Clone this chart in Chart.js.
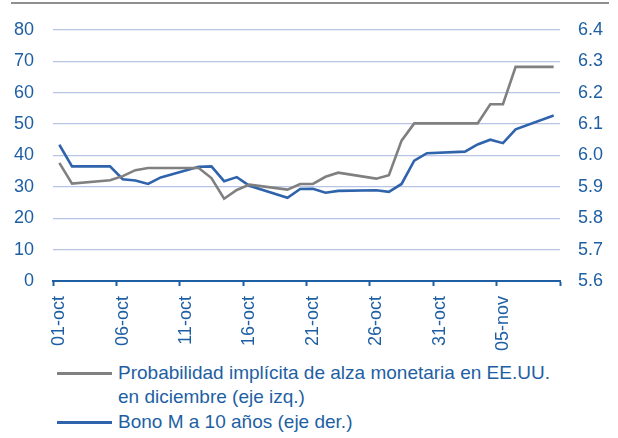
<!DOCTYPE html>
<html>
<head>
<meta charset="utf-8">
<script src="https://cdn.jsdelivr.net/npm/chart.js@4/dist/chart.umd.min.js"></script>
<style>
  body { margin: 0; background: #fff; }
  #wrap { position: relative; width: 618px; height: 438px; font-family: "Liberation Sans", Arial, sans-serif; }
  #topLine { position: absolute; left: 11px; top: 2px; width: 598px; border-top: 2px solid #8f8f8f; }
  #chart { position: absolute; left: 0; top: 0; }
  .leg { position: absolute; left: 0; color: #1e5fa3; font-size: 19px; line-height: 24px; }
  .leg .swatch { position: absolute; left: 57px; width: 55px; height: 0; border-top: 3px solid; }
  .leg .txt { position: absolute; left: 118px; white-space: nowrap; }
</style>
</head>
<body>
<div id="wrap">
  <div id="topLine"></div>
  <canvas id="chart" width="618" height="355"></canvas>
  <div id="legend"></div>
</div>
<script>
// días (01-oct-2015 a 09-nov-2015); null = fin de semana
const days = [
  '01-oct', '02-oct', '03-oct', '04-oct', '05-oct', '06-oct', '07-oct', '08-oct', '09-oct', '10-oct',
  '11-oct', '12-oct', '13-oct', '14-oct', '15-oct', '16-oct', '17-oct', '18-oct', '19-oct', '20-oct',
  '21-oct', '22-oct', '23-oct', '24-oct', '25-oct', '26-oct', '27-oct', '28-oct', '29-oct', '30-oct',
  '31-oct', '01-nov', '02-nov', '03-nov', '04-nov', '05-nov', '06-nov', '07-nov', '08-nov', '09-nov'
];

// Probabilidad implícita de alza (eje izq., %)
const probAlza = [
  37.6, 31.0, null, null, 32.1, 33.4, 35.3, 36.0, 36.0, null,
  null, 36.0, 32.8, 26.2, 29.0, 30.7, null, null, 29.1, 30.9,
  30.9, 33.2, 34.5, null, null, 32.6, 33.7, 44.7, 50.2, 50.2,
  null, null, 50.2, 50.2, 56.3, 56.3, 68.2, null, null, 68.2
];

// Bono M a 10 años (eje der., %)
const bonoM10 = [
  6.034, 5.965, null, null, 5.965, 5.924, 5.920, 5.909, 5.930, null,
  null, 5.964, 5.965, 5.918, 5.931, 5.903, null, null, 5.865, 5.893,
  5.894, 5.881, 5.887, null, null, 5.889, 5.884, 5.909, 5.983, 6.007,
  null, null, 6.012, 6.035, 6.050, 6.039, 6.083, null, null, 6.127
];

const probLabel = ['Probabilidad implícita de alza monetaria en EE.UU.', 'en diciembre (eje izq.)'];
const bonoLabel = ['Bono M a 10 años (eje der.)'];

const textBlue = '#1e5fa3';
const gridBlue = '#b7c4e3';
const grayLine = '#808080';
const blueLine = '#2f64ac';
const tickFont = { family: 'Liberation Sans', size: 18 };

const ctx = document.getElementById('chart').getContext('2d');
new Chart(ctx, {
  type: 'line',
  data: {
    labels: days,
    datasets: [
      { label: probLabel.join(' '), data: probAlza, yAxisID: 'y', borderColor: grayLine, borderWidth: 2.6 },
      { label: bonoLabel.join(' '), data: bonoM10, yAxisID: 'y1', borderColor: blueLine, borderWidth: 2.6 }
    ]
  },
  options: {
    responsive: false,
    animation: false,
    spanGaps: true,
    elements: { point: { radius: 0 }, line: { tension: 0 } },
    layout: { padding: { top: 26, left: 0, right: 0, bottom: 0 } },
    plugins: { legend: { display: false }, tooltip: { enabled: false } },
    scales: {
      x: {
        type: 'category',
        offset: true,
        grid: {
          offset: true,
          drawOnChartArea: false,
          tickLength: 5,
          tickWidth: 2,
          tickColor: (c) => (c.index === undefined || c.index % 5 === 0) ? textBlue : 'rgba(0,0,0,0)'
        },
        border: { display: true, color: textBlue, width: 2 },
        ticks: {
          autoSkip: false,
          minRotation: 90,
          maxRotation: 90,
          padding: 10,
          color: textBlue,
          font: tickFont,
          callback: (v, i) => (i % 5 === 0 ? days[i] : '')
        },
        afterFit: (s) => { s.height = 74; }
      },
      y: {
        position: 'left',
        min: 0,
        max: 80,
        ticks: { stepSize: 10, padding: 19, color: textBlue, font: tickFont },
        grid: { color: gridBlue, lineWidth: 1.3, drawTicks: false },
        border: { display: false },
        afterFit: (s) => { s.width = 53; }
      },
      y1: {
        position: 'right',
        min: 5.6,
        max: 6.4,
        ticks: { stepSize: 0.1, padding: 18, color: textBlue, font: tickFont, callback: (v) => Number(v).toFixed(1) },
        grid: { drawOnChartArea: false, drawTicks: false },
        border: { display: false },
        afterFit: (s) => { s.width = 58; }
      }
    }
  }
});

// leyenda
function addLegendItem(lines, color, centerY) {
  const item = document.createElement('div');
  item.className = 'leg';
  item.style.top = (centerY - 12) + 'px';
  const sw = document.createElement('div');
  sw.className = 'swatch';
  sw.style.borderColor = color;
  sw.style.top = '11px';
  const txt = document.createElement('div');
  txt.className = 'txt';
  txt.innerHTML = lines.join('<br>');
  item.appendChild(sw);
  item.appendChild(txt);
  document.getElementById('legend').appendChild(item);
}
addLegendItem(probLabel, grayLine, 373);
addLegendItem(bonoLabel, blueLine, 422);
</script>
</body>
</html>
